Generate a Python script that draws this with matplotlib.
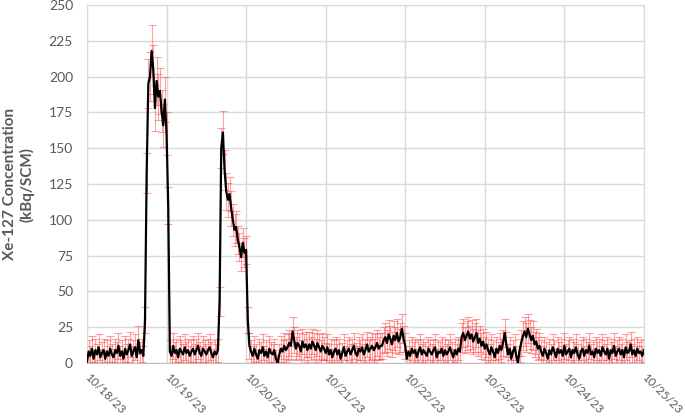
import numpy as np
import matplotlib
matplotlib.use("Agg")
import matplotlib.pyplot as plt
import matplotlib.dates as mdates
from datetime import datetime, timedelta

# Xe-127 readings, one every 30 minutes from 10/18/23 00:00
low1 = [1, 8, 5, 10, 3, 9, 6, 11, 4, 7, 9, 3, 8, 5, 10, 6, 4, 9, 7, 12,
        5, 8, 3, 10, 6, 9, 13, 5, 8, 11, 4, 16, 7, 9, 5]
low1_err = [7, 8, 7, 9, 6, 8, 7, 9, 6, 8, 8, 6, 8, 7, 9, 7, 6, 8, 8, 9,
            7, 8, 6, 9, 7, 8, 9, 7, 8, 9, 6, 10, 8, 8, 7]
peak1 = [30, 133, 195, 200, 218, 205, 178, 197, 186, 190, 176, 166, 184, 160, 110]
peak1_err = [9, 14, 17, 17, 18, 17, 16, 17, 16, 16, 15, 15, 16, 15, 13]
low2 = [8, 5, 12, 7, 9, 4, 10, 8, 6, 11, 7, 9, 5, 8, 10, 6, 9, 12, 7, 5,
        10, 8, 6, 9, 11, 7, 4, 8, 6, 9]
low2_err = [8, 7, 9, 8, 8, 6, 9, 8, 7, 9, 8, 8, 7, 8, 9, 7, 8, 9, 8, 7,
            9, 8, 7, 8, 9, 8, 6, 8, 7, 8]
peak2 = [43, 150, 161, 135, 120, 114, 118, 108, 100, 93, 95, 86, 81, 74, 84, 77, 79, 30]
peak2_err = [10, 14, 15, 14, 13, 12, 12, 12, 11, 11, 11, 10, 10, 10, 10, 10, 10, 9]
low3 = [12, 8, 5, 10, 6, 3, 9, 7, 11, 5, 8, 4, 10, 7, 6, 9, 3, 0, 6, 10,
        8, 12, 9, 11]
low3_err = [9, 8, 7, 9, 7, 6, 8, 8, 9, 7, 8, 6, 9, 8, 7, 8, 6, 5, 7, 9,
            8, 9, 8, 9]
bump_a = [14, 12, 22, 16, 10, 14, 12, 8, 15, 11, 13, 9]
bump_a_err = [9, 9, 10, 9, 8, 9, 9, 8, 9, 9, 9, 8]
mid1 = [13, 10, 15, 12, 9, 14, 11, 8, 12, 10, 7, 11, 6, 9, 4, 8, 10, 6, 9, 3,
        7, 11, 5, 8, 10, 6, 9, 12, 7, 5, 10, 8, 11, 6, 9, 13, 8, 10, 12, 9,
        11, 14, 10, 12]
mid1_err = [9, 8, 9, 9, 8, 9, 9, 8, 9, 8, 7, 9, 7, 8, 6, 8, 8, 7, 8, 6,
            7, 9, 7, 8, 8, 7, 8, 9, 7, 7, 8, 8, 9, 7, 8, 9, 8, 8, 9, 8,
            9, 9, 8, 9]
bump_b = [12, 16, 18, 14, 20, 17, 13, 19, 16, 21, 15, 18, 24, 17, 12, 3]
bump_b_err = [9, 9, 10, 9, 10, 9, 9, 10, 9, 10, 9, 10, 10, 9, 9, 6]
mid2 = [8, 5, 10, 7, 9, 4, 8, 11, 6, 9, 7, 5, 10, 8, 6, 9, 11, 4, 8, 7,
        10, 5, 9, 6, 8, 11, 7, 4, 9, 6, 10, 8]
mid2_err = [8, 7, 8, 8, 8, 6, 8, 9, 7, 8, 8, 7, 8, 8, 7, 8, 9, 6, 8, 8,
            8, 7, 8, 7, 8, 9, 8, 6, 8, 7, 8, 8]
bump_c = [18, 21, 16, 19, 22, 17, 20, 15, 18, 21, 14, 17, 12, 15, 10, 13]
bump_c_err = [10, 10, 9, 10, 10, 9, 10, 9, 10, 10, 9, 9, 9, 9, 8, 9]
dip = [9, 6, 11, 8, 4, 10, 7, 12, 9, 14, 21, 13, 6, 10, 3, 8, 11, 5, 0, 9]
dip_err = [8, 7, 9, 8, 6, 8, 8, 9, 8, 9, 10, 9, 7, 8, 6, 8, 9, 7, 5, 8]
bump_d = [14, 19, 22, 18, 24, 20, 16, 19, 13, 15, 10, 12]
bump_d_err = [9, 10, 10, 10, 10, 10, 9, 10, 9, 9, 8, 9]
tail = [8, 5, 10, 7, 3, 9, 6, 11, 8, 4, 10, 7, 9, 5, 12, 6, 8, 10, 4, 9,
        7, 11, 6, 3, 8, 10, 5, 9, 7, 12, 6, 8, 4, 10, 7, 9, 5, 11, 8, 6,
        10, 3, 9, 7, 12, 5, 8, 10, 6, 9, 4, 11, 7, 8, 13, 6, 9, 5, 10, 7,
        8, 5, 9]
tail_err = [8, 7, 8, 8, 6, 8, 7, 9, 8, 6, 8, 8, 8, 7, 9, 7, 8, 8, 6, 8,
            8, 9, 7, 6, 8, 8, 7, 8, 8, 9, 7, 8, 6, 8, 8, 8, 7, 9, 8, 7,
            8, 6, 8, 8, 9, 7, 8, 8, 7, 8, 6, 9, 8, 8, 9, 7, 8, 7, 8, 8,
            8, 7, 8]

conc = np.array(low1 + peak1 + low2 + peak2 + low3 + bump_a + mid1 + bump_b
                + mid2 + bump_c + dip + bump_d + tail, dtype=float)
err = np.array(low1_err + peak1_err + low2_err + peak2_err + low3_err + bump_a_err
               + mid1_err + bump_b_err + mid2_err + bump_c_err + dip_err
               + bump_d_err + tail_err, dtype=float)

start = datetime(2023, 10, 18)
times = [start + timedelta(minutes=30 * i) for i in range(len(conc))]

plt.rcParams['font.family'] = ['Lato', 'DejaVu Sans']

fig = plt.figure(figsize=(6.85, 4.2), dpi=100)
ax = fig.add_axes([0.127, 0.1357, 0.813, 0.8523])

ax.errorbar(times, conc, yerr=err, fmt='none', ecolor='#ff3030', alpha=0.45,
            elinewidth=0.8, capsize=3, capthick=0.8, zorder=2)
ax.plot(times, conc, color='black', lw=1.6, zorder=3)

ax.set_ylim(0, 250)
ax.set_yticks(np.arange(0, 251, 25))
ax.set_xlim(datetime(2023, 10, 18), datetime(2023, 10, 25))
ax.xaxis.set_major_locator(mdates.DayLocator())
ax.xaxis.set_major_formatter(mdates.DateFormatter('%m/%d/%y'))

ax.grid(True, color='#d9d9d9', lw=1, zorder=0)
ax.set_axisbelow(True)
for s in ax.spines.values():
    s.set_color('#d9d9d9')
ax.spines['bottom'].set_color('#bfbfbf')

ax.tick_params(length=0, colors='#595959', labelsize=10)
ax.tick_params(axis='y', pad=10)
ax.tick_params(axis='x', labelsize=8.5, pad=9)
for lab in ax.get_xticklabels():
    lab.set_rotation(-45)
    lab.set_ha('left')
    lab.set_va('center')
    lab.set_rotation_mode('anchor')

ax.set_ylabel('Xe-127 Concentration\n(kBq/SCM)', fontsize=11, fontweight='bold',
              color='#595959', labelpad=10)

fig.savefig('out.png', dpi=100)
